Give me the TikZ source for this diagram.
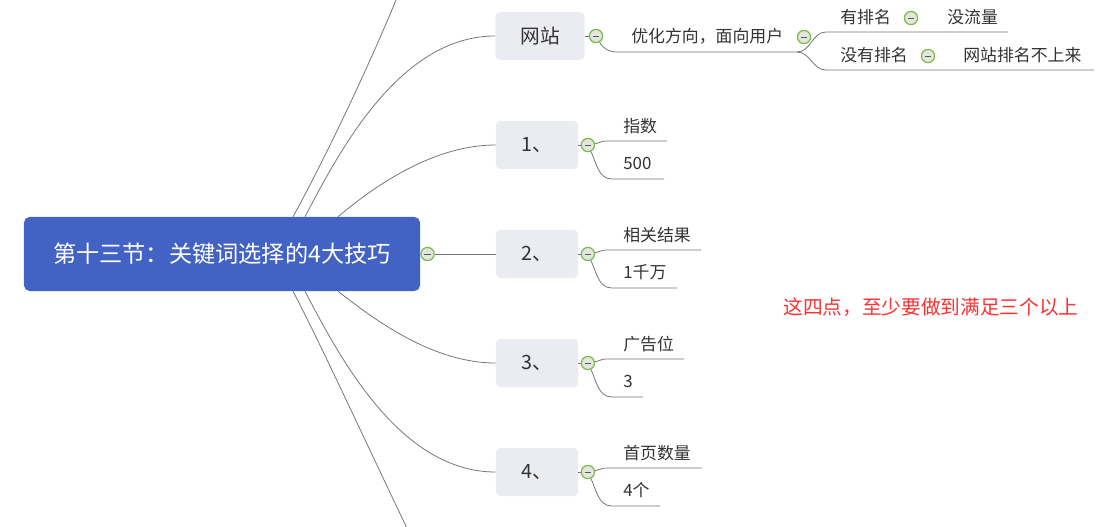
\documentclass[tikz,border=0pt]{standalone}
\usepackage{fontspec}
\newfontfamily\cjk{Noto Sans CJK SC}
\usetikzlibrary{calc,positioning}

\definecolor{rootblue}{RGB}{66,98,196}
\definecolor{topicgray}{RGB}{235,236,242}
\definecolor{inkgray}{RGB}{51,51,51}
\definecolor{wiregray}{RGB}{115,115,115}
\definecolor{foldgreen}{RGB}{128,186,76}
\definecolor{foldfill}{RGB}{226,230,222}
\definecolor{notered}{RGB}{255,48,48}

\tikzset{
  wire/.style={draw=wiregray, line width=0.55pt},
  roottopic/.style={fill=rootblue, rounded corners=4pt, minimum width=9.9cm, minimum height=1.85cm, text=white, font=\cjk\fontsize{16.5}{20}\selectfont},
  topic/.style={fill=topicgray, rounded corners=3pt, minimum width=2.05cm, minimum height=1.2cm, text=inkgray, font=\cjk\fontsize{14}{17}\selectfont},
  fold/.style={circle, draw=foldgreen, fill=foldfill, line width=0.9pt, inner sep=0pt, minimum size=0.33cm,
    path picture={\draw[black!65, line width=0.7pt] ([xshift=-2.4pt]path picture bounding box.center) -- ([xshift=2.4pt]path picture bounding box.center);}},
  leaf/.style={anchor=west, inner sep=0pt, text=inkgray, font=\cjk\fontsize{12}{14}\selectfont}
}

\begin{document}
\begin{tikzpicture}[x=0.025cm, y=-0.025cm]
  \useasboundingbox (0,0) rectangle (1120,527);

  \node[roottopic] (root) at (222,254) {第十三节：关键词选择的4大技巧};
  \node[fold, right=0pt of root] (rf) {};

  % 网站
  \node[topic, minimum width=2.225cm] (b0) at (540,36) {网站};
  \node[fold, right=0.1cm of b0] (f0) {};
  \node[leaf] (l0) at (631,36) {优化方向，面向用户};
  \node[fold] (g0) at (804,37) {};
  \node[leaf] (l0a) at (840,17) {有排名};
  \node[fold] (h0) at (911,18) {};
  \node[leaf] (m0a) at (947,17) {没流量};
  \node[leaf] (l0b) at (840,55) {没有排名};
  \node[fold] (k0) at (928,56) {};
  \node[leaf] (m0b) at (963,55) {网站排名不上来};
  \coordinate (u0) at (617,52);
  \coordinate (v0) at (797,52);
  \coordinate (u0a) at (826,32);
  \coordinate (v0a) at (1008,32);
  \coordinate (u0b) at (826,70);
  \coordinate (v0b) at (1094,70);
  \draw[wire] (b0) -- (f0);
  \draw[wire] (f0) to[out=-60,in=180] (u0) -- (v0);
  \draw[wire] (v0) to[out=0,in=180] (u0a) -- (v0a);
  \draw[wire] (v0) to[out=0,in=180] (u0b) -- (v0b);

  % 1、 ... 4、
  \foreach \i/\y/\ta/\ea/\tb/\eb in {1/145/指数/667/500/664, 2/254/相关结果/701/1千万/677, 3/363/广告位/684/3/643, 4/472/首页数量/702/4个/660}{
    \node[topic] (b\i) at (537,\y) {\i、};
    \node[fold, right=0.06cm of b\i] (f\i) {};
    \coordinate (ua\i) at (606,\y-4);
    \coordinate (va\i) at (\ea,\y-4);
    \coordinate (ub\i) at (612,\y+34);
    \coordinate (vb\i) at (\eb,\y+34);
    \node[leaf] (la\i) at (623,\y-18.5) {\ta};
    \node[leaf] (lb\i) at (623,\y+18) {\tb};
    \draw[wire] (b\i) -- (f\i);
    \draw[wire] (f\i) to[out=10,in=180] (ua\i) -- (va\i);
    \draw[wire] (f\i) to[out=-65,in=180] (ub\i) -- (vb\i);
  }

  % Ветки от корня
  \coordinate (rt0) at ($(root.north)+(71,0)$);
  \coordinate (rt1) at ($(root.north)+(83,0)$);
  \coordinate (rt2) at ($(root.north)+(116,0)$);
  \coordinate (rb0) at ($(root.south)+(71,0)$);
  \coordinate (rb1) at ($(root.south)+(83,0)$);
  \coordinate (rb2) at ($(root.south)+(116,0)$);
  \coordinate (up) at (404,-20);
  \coordinate (down) at (416,547);
  \draw[wire] (rt0) .. controls (318,172) and (372,62) .. (up);
  \draw[wire] (rt1) .. controls (340,150) and (400,36) .. (b0.west);
  \draw[wire] (rt2) .. controls (370,190) and (430,145) .. (b1.west);
  \draw[wire] (rf) -- (b2);
  \draw[wire] (rb2) .. controls (370,316) and (430,363) .. (b3.west);
  \draw[wire] (rb1) .. controls (340,358) and (400,472) .. (b4.west);
  \draw[wire] (rb0) .. controls (318,338) and (374,460) .. (down);

  \node[text=notered, font=\cjk\fontsize{14}{17}\selectfont] (note) at (931,307) {这四点，至少要做到满足三个以上};
\end{tikzpicture}
\end{document}
